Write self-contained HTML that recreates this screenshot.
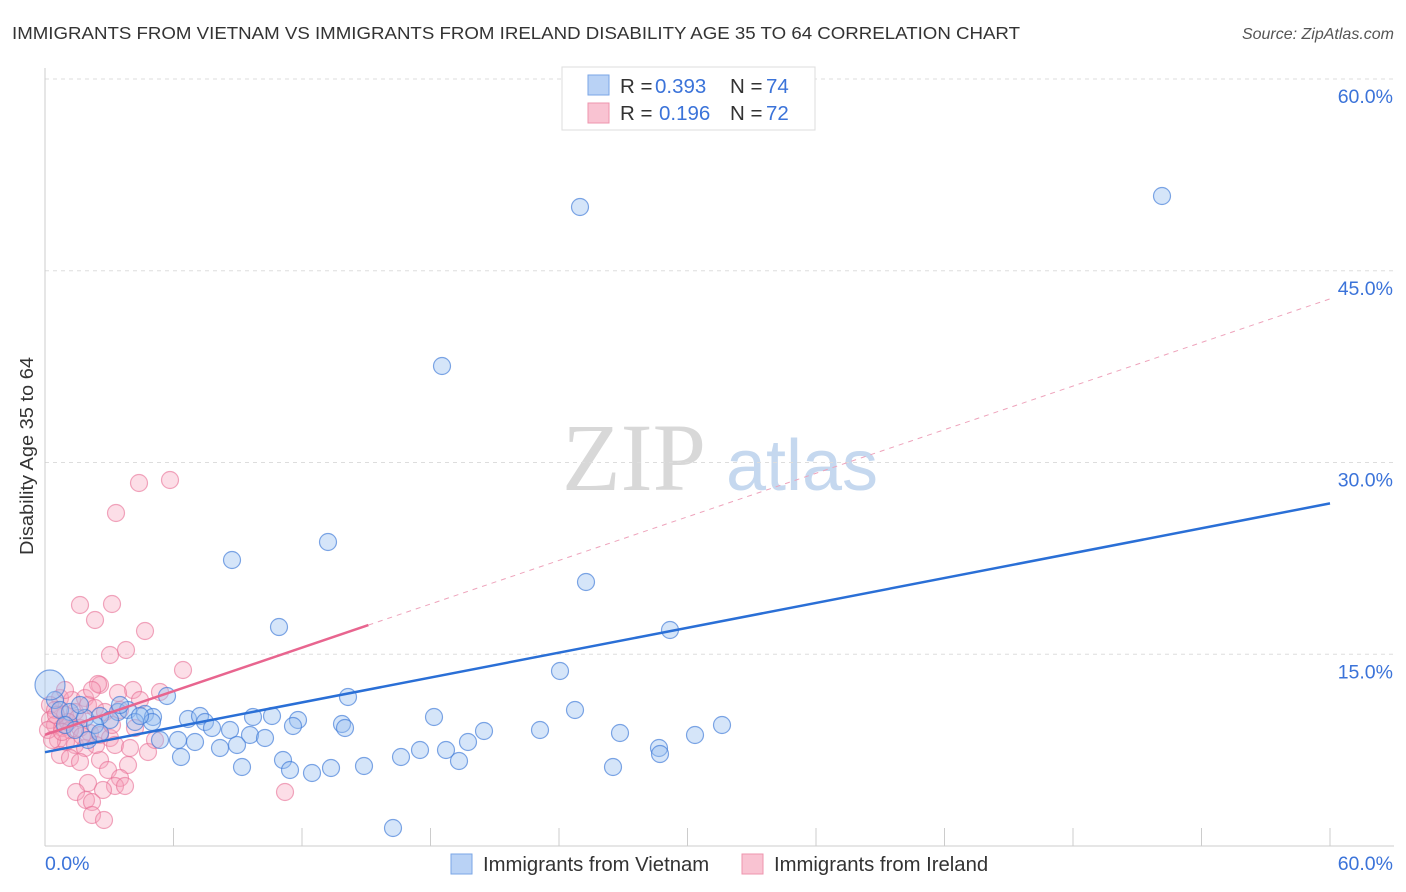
<!DOCTYPE html>
<html><head><meta charset="utf-8"><style>
body{margin:0;background:#fff;font-family:"Liberation Sans",sans-serif;}
svg{display:block}
</style></head><body>
<svg id="c" width="1406" height="892" xmlns="http://www.w3.org/2000/svg">
<text x="12" y="39" font-size="17.5" fill="#333" textLength="1008" lengthAdjust="spacingAndGlyphs">IMMIGRANTS FROM VIETNAM VS IMMIGRANTS FROM IRELAND DISABILITY AGE 35 TO 64 CORRELATION CHART</text>
<text x="1394" y="39" font-size="16" font-style="italic" fill="#555" text-anchor="end">Source: ZipAtlas.com</text>
<g>
<text x="634" y="490" font-size="96" font-family="Liberation Serif,serif" fill="#d8d8d8" text-anchor="middle">ZIP</text>
<text x="802" y="490" font-size="72" fill="#c5d8ef" text-anchor="middle">atlas</text>
</g>
<g id="grid"></g>
<g id="axes"></g>
<g id="pts"></g>
<g id="lines"></g>
<text transform="translate(33,456) rotate(-90)" font-size="18" fill="#333" text-anchor="middle" textLength="198" lengthAdjust="spacingAndGlyphs">Disability Age 35 to 64</text>
<text x="45" y="870" font-size="19.5" fill="#3b73d9">0.0%</text>
<text x="1393" y="870" font-size="19.5" fill="#3b73d9" text-anchor="end">60.0%</text>
<g>
<rect x="562" y="67" width="253" height="63" fill="#fff" stroke="#ddd"/>
<rect x="588" y="75" width="21" height="20" fill="#b9d2f5" stroke="#7aa6e6"/>
<rect x="588" y="103" width="21" height="20" fill="#f9c3d2" stroke="#ee95ae"/>
<text x="620" y="93" font-size="20.5" fill="#333">R = <tspan x="655" fill="#3b73d9">0.393</tspan><tspan x="730">N = </tspan><tspan x="766" fill="#3b73d9">74</tspan></text>
<text x="620" y="120" font-size="20.5" fill="#333">R = <tspan x="659" fill="#3b73d9">0.196</tspan><tspan x="730">N = </tspan><tspan x="766" fill="#3b73d9">72</tspan></text>
</g>
<g>
<rect x="451" y="854" width="21" height="20" fill="#b9d2f5" stroke="#7aa6e6"/>
<text x="483" y="871" font-size="20.3" fill="#333">Immigrants from Vietnam</text>
<rect x="742" y="854" width="21" height="20" fill="#f9c3d2" stroke="#ee95ae"/>
<text x="774" y="871" font-size="20.3" fill="#333">Immigrants from Ireland</text>
</g>
</svg>
<script>
const yTicks=[15,30,45,60];
const yTickLabels=["15.0%","30.0%","45.0%","60.0%"];
const xTicks=[0,6,12,18,24,30,36,42,48,54,60];
const vietnamX=[580,1162,442,232,328,586,279,670,560,348,167,575,434,55,60,70,85,100,118,128,145,153,135,152,188,200,205,212,230,253,272,298,293,342,345,484,540,620,722,695,250,265,178,160,195,220,237,181,283,331,364,401,420,446,468,459,613,659,660,242,290,312,393,88,110,80,95,65,75,140,120,100];
const vietnamY=[207,196,366,560,542,582,627,630,671,697,696,710,717,700,710,712,718,716,712,710,714,717,722,722,719,716,722,728,730,717,716,720,726,724,728,731,730,733,725,735,735,738,740,740,742,748,745,757,760,768,766,757,750,750,742,761,767,748,754,767,770,773,828,740,720,705,725,725,730,716,705,733];
const irelandX=[139,170,116,80,112,95,145,126,110,183,100,98,133,118,160,60,72,85,50,55,65,75,88,95,105,120,50,55,62,70,80,90,100,110,58,66,75,85,115,130,148,60,70,100,128,80,108,120,88,115,125,76,103,86,92,92,104,285,48,52,155,65,92,140,78,68,56,112,135,96,82,62];
const irelandY=[483,480,513,605,604,620,631,650,655,670,685,684,690,693,692,698,700,698,705,710,715,712,705,708,712,710,720,725,728,730,728,733,735,738,740,742,745,748,745,748,752,755,758,760,765,762,770,778,783,786,786,792,790,800,802,815,820,792,730,740,740,690,690,700,718,722,715,725,728,745,736,732];
const vietnamFit=[7.34,26.8];
const irelandFit=[8.7,42.8];
const NS='http://www.w3.org/2000/svg';
const X=v=>45+v*(1285/60);
const Y=v=>846-v*(767/60);
const PX=p=>(p-45)/(1285/60), PY=p=>(846-p)/(767/60);
function mk(t,a,p){const e=document.createElementNS(NS,t);for(const k in a)e.setAttribute(k,a[k]);document.getElementById(p).appendChild(e);return e;}
yTicks.forEach((t,i)=>{
 const l=mk('line',{x1:45,x2:1394,y1:Y(t),y2:Y(t),stroke:'#ddd','stroke-dasharray':'4,4'},'grid');
 
 
 const tx=mk('text',{x:1393,y:Y(t)+24,'font-size':19.5,fill:'#3b73d9','text-anchor':'end'},'grid');
 tx.textContent=yTickLabels[i];
 
 
});
let a=mk('line',{x1:45,x2:45,y1:68,y2:846,stroke:'#ccc'},'axes');


a=mk('line',{x1:45,x2:1394,y1:846,y2:846,stroke:'#ccc'},'axes');


xTicks.forEach(t=>{
 const l=mk('line',{x1:X(t),x2:X(t),y1:828,y2:846,stroke:'#ccc'},'axes');
 
 
});
irelandX.forEach((px,i)=>{
 const c=mk('circle',{cx:X(PX(px)),cy:Y(PY(irelandY[i])),r:8.5,fill:'rgba(246,160,187,0.35)',stroke:'rgba(232,110,148,0.6)','stroke-width':1.2},'pts');
 
 
});
vietnamX.forEach((px,i)=>{
 const c=mk('circle',{cx:X(PX(px)),cy:Y(PY(vietnamY[i])),r:8.5,fill:'rgba(150,190,240,0.4)',stroke:'rgba(60,120,215,0.65)','stroke-width':1.2},'pts');
 
 
});
let big=mk('circle',{cx:X(PX(50)),cy:Y(PY(685)),r:15,fill:'rgba(150,190,240,0.4)',stroke:'rgba(60,120,215,0.65)','stroke-width':1.2},'pts');


let ln=mk('line',{x1:X(0),y1:Y(vietnamFit[0]),x2:X(60),y2:Y(vietnamFit[1]),stroke:'#2a6fd6','stroke-width':2.5},'lines');


const ix=15.1, iy=irelandFit[0]+(irelandFit[1]-irelandFit[0])*ix/60;
ln=mk('line',{x1:X(0),y1:Y(irelandFit[0]),x2:X(ix),y2:Y(iy),stroke:'#e8658f','stroke-width':2.5},'lines');


ln=mk('line',{x1:X(ix),y1:Y(iy),x2:X(60),y2:Y(irelandFit[1]),stroke:'#eea3bb','stroke-width':1,'stroke-dasharray':'5,5'},'lines');


</script>
</body></html>
